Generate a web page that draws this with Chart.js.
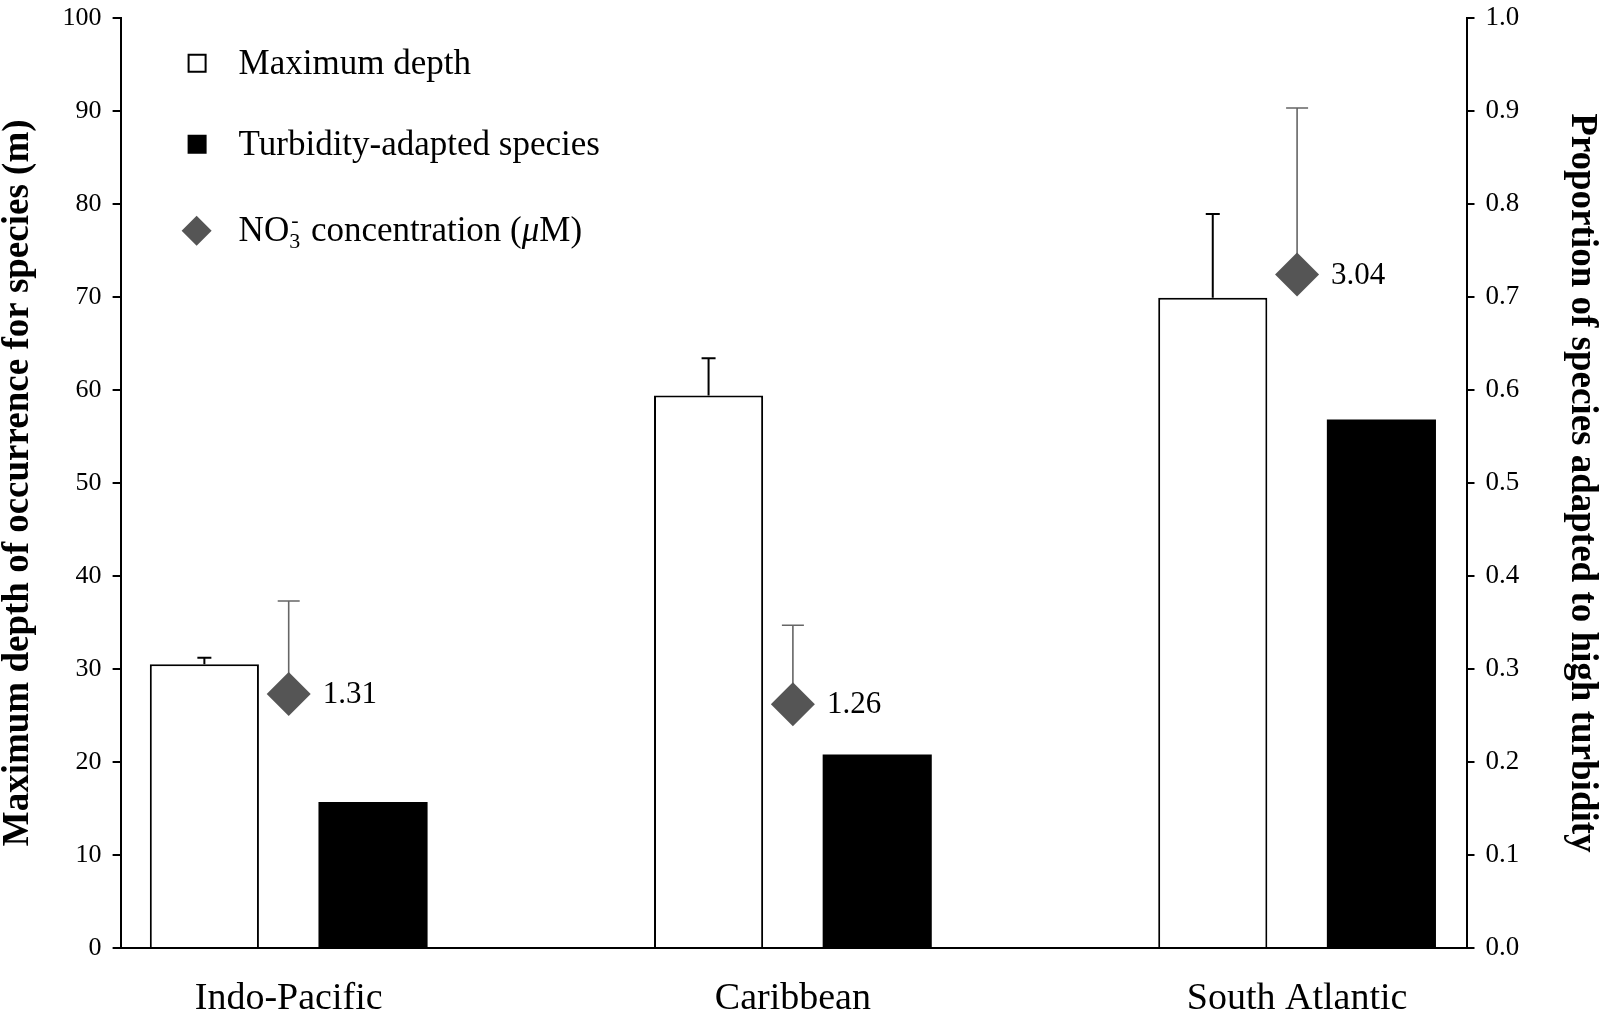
<!DOCTYPE html>
<html>
<head>
<meta charset="utf-8">
<script src="https://cdn.jsdelivr.net/npm/chart.js@4.4.1/dist/chart.umd.min.js"></script>
<style>
html,body{margin:0;padding:0;background:#ffffff;}
#wrap{width:1600px;height:1012px;position:relative;}
</style>
</head>
<body>
<div id="wrap"><canvas id="c" width="1600" height="1012"></canvas></div>
<script>
// ---- data ----
const categories = ['Indo-Pacific', 'Caribbean', 'South Atlantic'];
const categoryIndex = [0, 1, 2];
const maxDepth = [30.5, 59.4, 69.9];            // m (left axis)
const maxDepthUpper = [31.2, 63.4, 78.9];       // upper end of error bar (m)
const turbidityProportion = [0.157, 0.208, 0.568]; // proportion (right axis)
const nitrateLabels = ['1.31', '1.26', '3.04'];    // NO3- concentration (µM)
const nitrateMarker = [27.3, 26.2, 72.4];         // marker height read against left axis
const nitrateMarkerUpper = [37.3, 34.7, 90.3];    // upper end of marker error bar
const legendLabels = ['Maximum depth', 'Turbidity-adapted species', 'NO3- concentration (µM)'];

const SERIF = '"Liberation Serif", "Times New Roman", serif';

function pts(values) { return categoryIndex.map((x, i) => ({ x: x, y: values[i] })); }

const errorBarPlugin = {
  id: 'errorBars',
  beforeDatasetsDraw(chart) {
    const ctx = chart.ctx;
    chart.data.datasets.forEach((ds, di) => {
      if (!ds.errorUpper) return;
      const meta = chart.getDatasetMeta(di);
      const scale = chart.scales[meta.yAxisID];
      ctx.save();
      ctx.strokeStyle = ds.errorColor;
      ctx.lineWidth = ds.errorWidth;
      meta.data.forEach((el, j) => {
        const yTop = scale.getPixelForValue(ds.errorUpper[j]);
        ctx.beginPath();
        ctx.moveTo(el.x, el.y);
        ctx.lineTo(el.x, yTop);
        ctx.moveTo(el.x - ds.capWidth / 2, yTop);
        ctx.lineTo(el.x + ds.capWidth / 2, yTop);
        ctx.stroke();
      });
      ctx.restore();
    });
  },
  afterDatasetsDraw(chart) {
    const ctx = chart.ctx;
    chart.data.datasets.forEach((ds, di) => {
      if (!ds.valueLabels) return;
      const meta = chart.getDatasetMeta(di);
      ctx.save();
      ctx.fillStyle = '#000';
      ctx.font = '31px ' + SERIF;
      ctx.textAlign = 'left';
      ctx.textBaseline = 'middle';
      meta.data.forEach((el, j) => {
        ctx.fillText(ds.valueLabels[j], el.x + 34, el.y + 1);
      });
      ctx.restore();
    });
  }
};

const legendPlugin = {
  id: 'customLegend',
  afterDraw(chart) {
    const ctx = chart.ctx;
    const a = chart.chartArea;
    const mx = a.left + 76;
    const tx = a.left + 118;
    const rows = [a.top + 46, a.top + 127, a.top + 213];
    ctx.save();
    // markers
    ctx.lineWidth = 2;
    ctx.strokeStyle = '#000';
    ctx.fillStyle = '#fff';
    ctx.fillRect(mx - 8, rows[0] - 9, 17, 17);
    ctx.strokeRect(mx - 8, rows[0] - 9, 17, 17);
    ctx.fillStyle = '#000';
    ctx.fillRect(mx - 9, rows[1] - 10, 19, 19);
    ctx.fillStyle = '#555555';
    ctx.beginPath();
    ctx.moveTo(mx - 15, rows[2]);
    ctx.lineTo(mx, rows[2] - 15);
    ctx.lineTo(mx + 15, rows[2]);
    ctx.lineTo(mx, rows[2] + 15);
    ctx.closePath();
    ctx.fill();
    // texts
    ctx.fillStyle = '#000';
    ctx.textBaseline = 'alphabetic';
    ctx.textAlign = 'left';
    const f = '35px ' + SERIF;
    const fs = '22px ' + SERIF;
    ctx.font = f;
    ctx.fillText(legendLabels[0], tx, rows[0] + 10);
    ctx.fillText(legendLabels[1], tx, rows[1] + 10);
    let x = tx; const y = rows[2] + 10;
    ctx.fillText('NO', x, y); x += ctx.measureText('NO').width;
    ctx.font = fs; ctx.fillText('3', x, y + 7);
    ctx.fillText('-', x + 2, y - 14); x += ctx.measureText('3').width + 2;
    ctx.font = f; ctx.fillText(' concentration (', x, y); x += ctx.measureText(' concentration (').width;
    ctx.font = 'italic 35px ' + SERIF; ctx.fillText('\u03bc', x, y); x += ctx.measureText('\u03bc').width;
    ctx.font = f; ctx.fillText('M)', x, y);
    ctx.restore();
  }
};

new Chart(document.getElementById('c'), {
  type: 'bar',
  data: {
    datasets: [
      {
        type: 'scatter',
        label: legendLabels[2],
        data: pts(nitrateMarker),
        yAxisID: 'y',
        pointStyle: 'rectRot',
        pointRadius: 22,
        pointHoverRadius: 22,
        backgroundColor: '#555555',
        borderColor: '#555555',
        borderWidth: 0,
        errorUpper: nitrateMarkerUpper,
        errorColor: '#666666',
        errorWidth: 1.6,
        capWidth: 22,
        valueLabels: nitrateLabels,
        order: 0
      },
      {
        label: legendLabels[0],
        data: pts(maxDepth),
        yAxisID: 'y',
        backgroundColor: '#ffffff',
        borderColor: '#000000',
        borderWidth: 2,
        errorUpper: maxDepthUpper,
        errorColor: '#000000',
        errorWidth: 2,
        capWidth: 14,
        order: 1
      },
      {
        label: legendLabels[1],
        data: pts(turbidityProportion),
        yAxisID: 'y2',
        backgroundColor: '#000000',
        borderColor: '#000000',
        borderWidth: 0,
        order: 1
      }
    ]
  },
  options: {
    responsive: false,
    animation: false,
    events: [],
    categoryPercentage: 0.669,
    barPercentage: 0.647,
    layout: { autoPadding: false, padding: { top: 0, left: 0, right: 0, bottom: 0 } },
    plugins: {
      legend: { display: false },
      tooltip: { enabled: false }
    },
    scales: {
      x: {
        type: 'linear',
        position: 'bottom',
        min: -0.3334,
        max: 2.336,
        bounds: 'data',
        offset: false,
        grid: { display: false, offset: false },
        border: { display: true, color: '#000', width: 2 },
        afterBuildTicks: (s) => { s.ticks = categoryIndex.map((v) => ({ value: v })); },
        ticks: {
          autoSkip: false,
          maxRotation: 0,
          padding: 20,
          color: '#000',
          font: { family: SERIF, size: 38 },
          callback: (v) => categories[v] !== undefined ? categories[v] : ''
        },
        afterFit: (s) => { s.height = 64; }
      },
      y: {
        position: 'left',
        min: 0,
        max: 100,
        grid: { display: true, drawOnChartArea: false, drawTicks: true, tickLength: 8, color: '#000', lineWidth: 2 },
        border: { display: true, color: '#000', width: 2 },
        ticks: { stepSize: 10, padding: 11, color: '#000', font: { family: SERIF, size: 26, lineHeight: 0.5 } },
        title: {
          display: true,
          text: 'Maximum depth of occurrence for species (m)',
          color: '#000',
          font: { family: SERIF, size: 37, weight: 'bold', lineHeight: 1.0 },
          padding: { top: 0, bottom: 0 }
        },
        afterFit: (s) => { s.width = 120.6; }
      },
      y2: {
        position: 'right',
        min: 0,
        max: 1,
        grid: { display: true, drawOnChartArea: false, drawTicks: true, tickLength: 8, color: '#000', lineWidth: 2 },
        border: { display: true, color: '#000', width: 2 },
        ticks: { stepSize: 0.1, padding: 11, color: '#000', font: { family: SERIF, size: 27, lineHeight: 0.5 }, callback: (v) => Number(v).toFixed(1) },
        title: {
          display: true,
          text: 'Proportion of species adapted to high turbidity',
          color: '#000',
          font: { family: SERIF, size: 37, weight: 'bold', lineHeight: 1.0 },
          padding: { top: 0, bottom: 0 }
        },
        afterFit: (s) => { s.width = 133.5; }
      }
    }
  },
  plugins: [errorBarPlugin, legendPlugin]
});
</script>
</body>
</html>
